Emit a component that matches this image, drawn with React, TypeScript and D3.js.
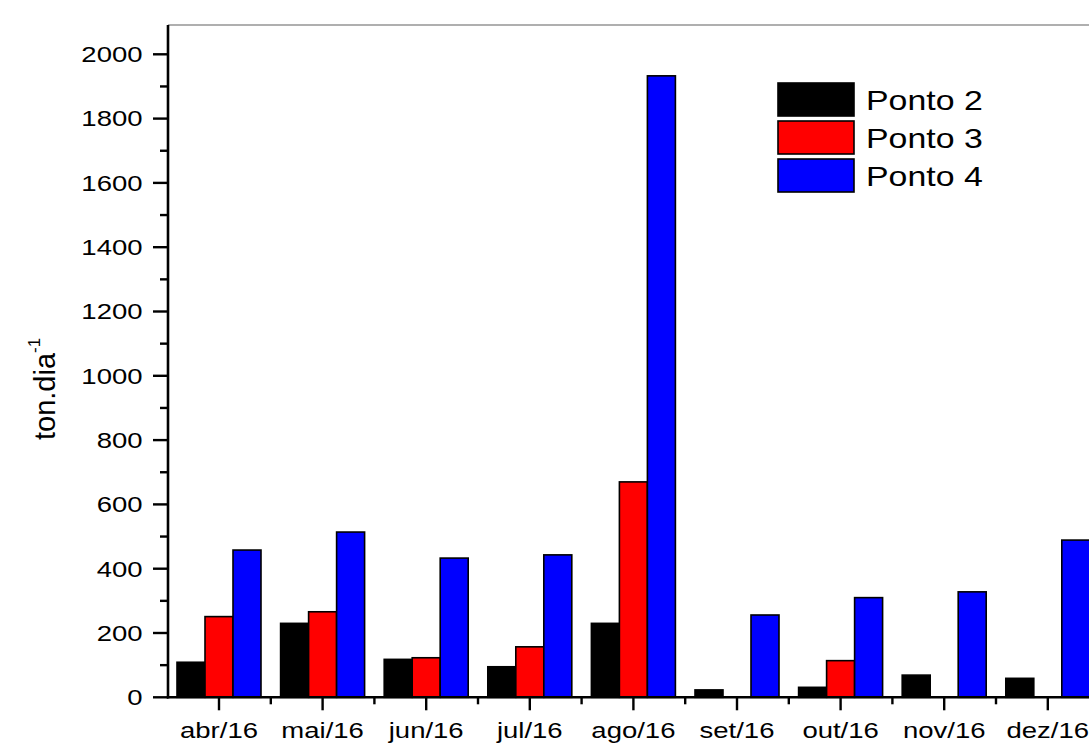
import React from "react";
import * as d3 from "d3";

const months = ["abr/16", "mai/16", "jun/16", "jul/16", "ago/16", "set/16", "out/16", "nov/16", "dez/16"];
const seriesNames = ["Ponto 2", "Ponto 3", "Ponto 4"];
const ponto2 = [109, 230, 118, 95, 230, 23, 31, 69, 59];
const ponto3 = [251, 266, 123, 157, 670, 0, 114, 0, 0];
const ponto4 = [458, 514, 433, 443, 1933, 256, 310, 328, 489];
const yTicks = [0, 200, 400, 600, 800, 1000, 1200, 1400, 1600, 1800, 2000];
const colors = ["#000000", "#ff0000", "#0000ff"];

const W = 1089;
const H = 749;
const FONT = "Liberation Sans, Arial, Helvetica, sans-serif";

export default function App() {
  const seriesValues = [ponto2, ponto3, ponto4];
  const step = 103.6;
  const x0 = 167.2;
  const x = d3.scaleBand<string>().domain(months).range([x0, x0 + step * months.length]).padding(0);
  const groupW = 84;
  const xs = d3
    .scaleBand<string>()
    .domain(seriesNames)
    .range([x.bandwidth() / 2 - groupW / 2, x.bandwidth() / 2 + groupW / 2])
    .padding(0);
  const y = d3.scaleLinear().domain([0, 2000]).range([697.3, 54.3]);
  const minor = d3.range(100, 2000, 200);
  const axisX = 168;
  const baseY = y(0);
  const frameTop = 25;

  const stretch = (tx: number, ty: number, sx: number) => `translate(${tx},${ty}) scale(${sx},1)`;

  return (
    <svg
      width={W}
      height={H}
      style={{ position: "absolute", left: 0, top: 0, background: "#ffffff" }}
      fontFamily={FONT}
    >
      <rect x={0} y={0} width={W} height={H} fill="#ffffff" />
      {/* top frame edge */}
      <line x1={axisX} x2={W} y1={frameTop} y2={frameTop} stroke="#606060" strokeWidth={1.2} />

      {/* bars */}
      {months.map((m, i) => (
        <g key={m}>
          {seriesValues.map((vals, s) =>
            vals[i] > 0 ? (
              <rect
                key={s}
                x={(x(m) as number) + (xs(seriesNames[s]) as number)}
                y={y(vals[i])}
                width={xs.bandwidth()}
                height={baseY - y(vals[i])}
                fill={colors[s]}
                stroke="#000"
                strokeWidth={1.6}
              />
            ) : null
          )}
        </g>
      ))}

      {/* y axis */}
      <line x1={axisX} x2={axisX} y1={frameTop} y2={baseY + 1.2} stroke="#000" strokeWidth={2.6} />
      {yTicks.map((t) => (
        <g key={t}>
          <line x1={axisX - 15} x2={axisX} y1={y(t)} y2={y(t)} stroke="#000" strokeWidth={2.4} />
          <text
            transform={stretch(142.5, y(t) + 7.8, 1.25)}
            textAnchor="end"
            fontSize={22}
            fill="#000"
          >
            {t}
          </text>
        </g>
      ))}
      {minor.map((t) => (
        <line key={t} x1={axisX - 8} x2={axisX} y1={y(t)} y2={y(t)} stroke="#000" strokeWidth={2.4} />
      ))}

      {/* x axis */}
      <line x1={axisX - 1.2} x2={W} y1={baseY} y2={baseY} stroke="#000" strokeWidth={2.6} />
      {months.map((m) => {
        const cx = (x(m) as number) + x.bandwidth() / 2;
        const bx = x(m) as number;
        return (
          <g key={m}>
            <line x1={cx} x2={cx} y1={baseY} y2={baseY + 13} stroke="#000" strokeWidth={2.4} />
            {bx > axisX + 2 ? (
              <line x1={bx} x2={bx} y1={baseY} y2={baseY + 7} stroke="#000" strokeWidth={2.4} />
            ) : null}
            <text transform={stretch(cx, 737.8, 1.25)} textAnchor="middle" fontSize={22} fill="#000">
              {m}
            </text>
          </g>
        );
      })}

      {/* y axis title */}
      <text transform="translate(55,440) rotate(-90)" fontSize={29} fill="#000">
        ton.dia
        <tspan fontSize={17} dy={-15}>
          -1
        </tspan>
      </text>

      {/* legend */}
      {seriesNames.map((n, i) => (
        <g key={n}>
          <rect
            x={778}
            y={83 + i * 38}
            width={76}
            height={33}
            fill={colors[i]}
            stroke="#000"
            strokeWidth={1.6}
          />
          <text transform={stretch(866, 109.5 + i * 38, 1.21)} fontSize={28} fill="#000">
            {n}
          </text>
        </g>
      ))}
    </svg>
  );
}
